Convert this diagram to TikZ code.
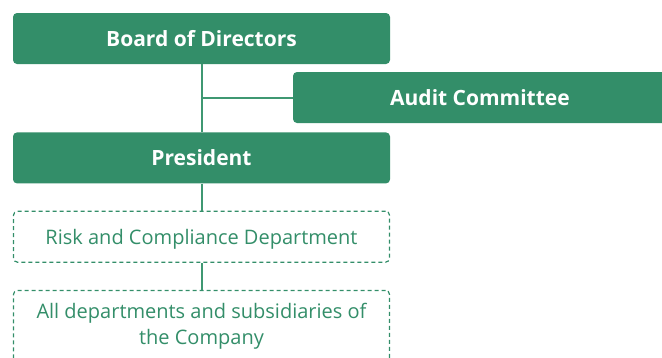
\documentclass[tikz,border=0pt]{standalone}
\usepackage{fontspec}
\setmainfont{Open Sans}
\usepackage{xcolor}
\usepackage{tikz}
\usetikzlibrary{positioning}
\definecolor{boardgreen}{HTML}{338E69}
\definecolor{linegreen}{HTML}{3F9872}

\begin{document}
\begin{tikzpicture}[
    x=1pt, y=-1pt,
    node distance=27pt,
    box/.style={
        fill=boardgreen,
        rounded corners=4pt,
        align=center,
        text=white,
        font=\fontsize{21}{24}\selectfont\bfseries,
        minimum width=377pt,
        minimum height=51pt,
        inner sep=0pt
    },
    unit/.style={
        draw=boardgreen,
        dashed,
        dash pattern=on 4pt off 3pt,
        line width=1.2pt,
        rounded corners=4pt,
        align=center,
        text=boardgreen,
        font=\fontsize{20}{26}\selectfont,
        minimum width=376pt,
        minimum height=51pt,
        inner sep=0pt
    },
    branch/.style={linegreen, line width=2pt}
]
    \clip (0,0) rectangle (662,357);
    \node[box] (board) at (201.5,38.5) {Board of Directors};
    \node[box, below=68pt of board] (president) {President};
    \node[box, minimum width=374pt] (audit) at (480,97.5) {Audit Committee};
    \node[unit, below=of president, text height=15pt, text depth=0pt] (risk)
        {Risk and Compliance Department};
    \node[unit, below=of risk, minimum height=72pt] (units)
        {All departments and subsidiaries of\\the Company};

    \draw[branch] (board) -- (president);
    \draw[branch] (board |- audit) -- (audit);
    \draw[branch] (president) -- (risk);
    \draw[branch] (risk) -- (units);
\end{tikzpicture}
\end{document}
